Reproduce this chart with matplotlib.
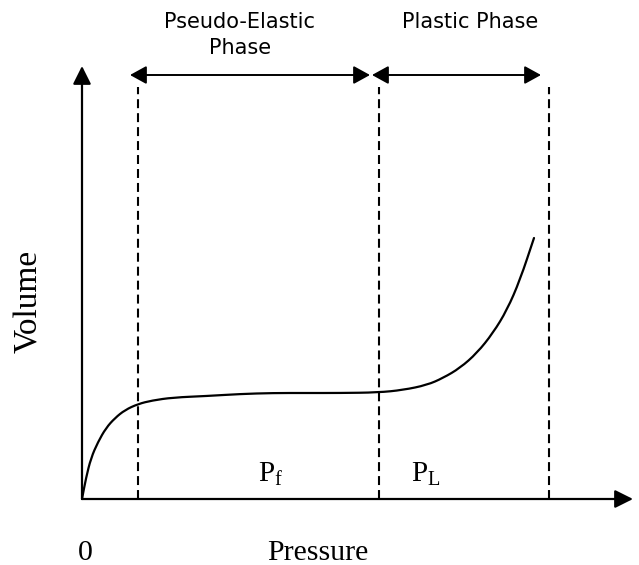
import numpy as np
import matplotlib.pyplot as plt
from matplotlib.path import Path
from matplotlib.patches import PathPatch

# schematic volume-pressure curve (arbitrary units, origin at axes crossing)
pressure = [0, 4, 9, 16, 24, 33, 43, 56, 70, 91, 125, 158, 191, 225, 258,
            296, 321, 345, 361, 378, 395, 411, 425, 438, 452]
volume = [0, 21, 41, 57, 71, 81, 89, 95, 98.5, 101.5, 103, 105, 106, 106, 106,
          106.5, 109, 114, 121, 131, 146, 166, 189, 219, 261]

# phase boundaries
boundaries = [56, 297, 467]
boundary_top = 412
phase_names = ['Pseudo-Elastic\nPhase', 'Plastic Phase']
phase_arrows = [(48, 288), (290, 459)]
phase_arrow_y = 424
pressure_labels = [(189, r'P$_\mathregular{f}$'), (344, r'P$_\mathregular{L}$')]

fig = plt.figure(figsize=(6.39, 5.65), dpi=100)
ax = fig.add_axes([0, 0, 1, 1])
ax.set_xlim(-82, 557)
ax.set_ylim(-66, 499)
ax.axis('off')

serif = 'Liberation Serif'
sans = 'DejaVu Sans'

# axes with arrow heads
axis_style = dict(arrowstyle='-|>,head_length=1.1,head_width=0.55', color='black',
                  lw=1.6, shrinkA=0, shrinkB=0, mutation_scale=10)
ax.annotate('', xy=(0, 433), xytext=(0, 0), arrowprops=axis_style)
ax.annotate('', xy=(551, 0), xytext=(0, 0), arrowprops=axis_style)

# curve, drawn smooth: points act as quadratic control points between midpoints
pts = np.column_stack([pressure, volume]).astype(float)
verts = [pts[0], (pts[0] + pts[1]) / 2]
codes = [Path.MOVETO, Path.LINETO]
for i in range(1, len(pts) - 1):
    verts += [pts[i], (pts[i] + pts[i + 1]) / 2]
    codes += [Path.CURVE3, Path.CURVE3]
verts.append(pts[-1])
codes.append(Path.LINETO)
ax.add_patch(PathPatch(Path(verts, codes), fill=False, edgecolor='black', lw=1.6,
                       capstyle='round'))

# dashed boundaries
for b in boundaries:
    ax.plot([b, b], [0, boundary_top], color='black', lw=1.5, dashes=(4.3, 2.4))

# phase arrows and labels
phase_style = dict(arrowstyle='<|-|>,head_length=1.0,head_width=0.55', color='black',
                   lw=1.4, shrinkA=0, shrinkB=0, mutation_scale=10)
for x0, x1 in phase_arrows:
    ax.annotate('', xy=(x1, phase_arrow_y), xytext=(x0, phase_arrow_y), arrowprops=phase_style)

ax.text(158, 464, phase_names[0], ha='center', va='center', fontsize=15,
        family=sans, linespacing=1.35)
ax.text(388, 477, phase_names[1], ha='center', va='center', fontsize=15, family=sans)

for x, lab in pressure_labels:
    ax.text(x, 25, lab, ha='center', va='center', fontsize=21, family=serif)

ax.text(3, -54, '0', ha='center', va='center', fontsize=21.5, family=serif)
ax.text(236, -54, 'Pressure', ha='center', va='center', fontsize=21.5, family=serif)
ax.text(-53, 198, 'Volume', ha='center', va='center', fontsize=24, family=serif,
        rotation=90)

fig.savefig('out.png', dpi=100)
